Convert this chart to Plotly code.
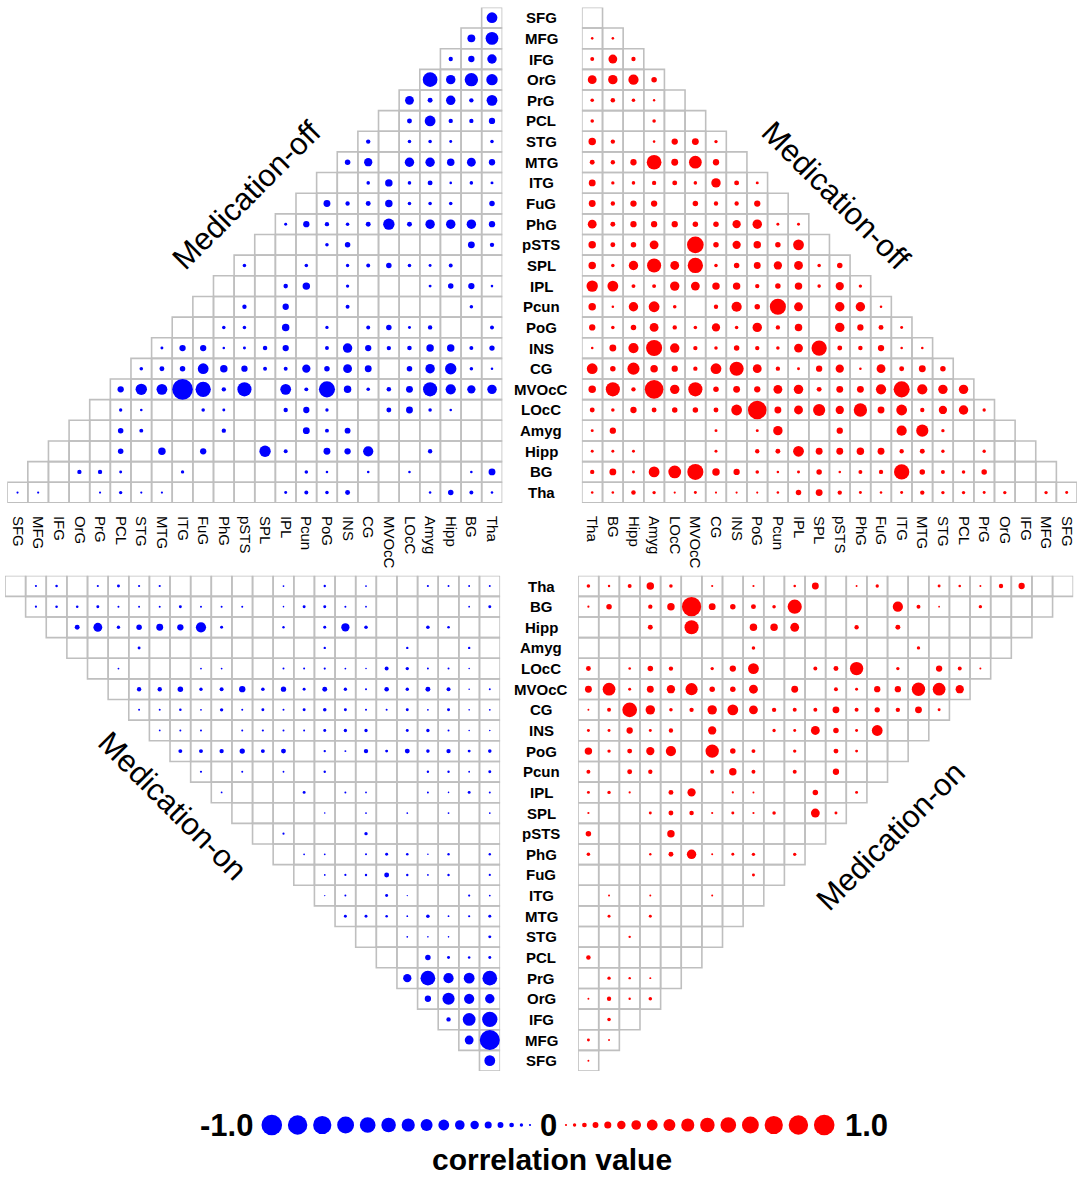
import plotly.graph_objects as go

regions = ["SFG", "MFG", "IFG", "OrG", "PrG", "PCL", "STG", "MTG", "ITG", "FuG", "PhG", "pSTS",
           "SPL", "IPL", "Pcun", "PoG", "INS", "CG", "MVOcC", "LOcC", "Amyg", "Hipp", "BG", "Tha"]

# Medication-off, negative correlations (top-left). Rows SFG..Tha, cells left->right.
off_neg = [
    [-.5],
    [-.35, -.6],
    [-.17, -.27, -.43],
    [-.7, -.43, -.63, -.53],
    [-.4, -.2, -.43, -.17, -.5],
    [0, -.2, -.5, -.17, -.17, -.27],
    [-.17, 0, -.13, -.13, -.1, 0, -.13],
    [-.23, -.37, 0, -.43, -.43, -.33, -.4, -.27],
    [0, 0, -.13, -.33, -.13, -.2, -.08, -.13, -.1],
    [0, -.3, -.17, -.2, -.33, -.13, -.13, -.13, 0, -.23],
    [-.1, -.27, -.17, -.13, -.2, -.53, -.2, -.43, -.43, -.43, -.27],
    [0, 0, 0, -.13, -.23, 0, 0, 0, 0, 0, -.3, -.17],
    [-.13, 0, 0, -.13, 0, -.12, -.15, -.23, -.13, -.1, -.15, 0, 0],
    [0, 0, 0, -.18, -.33, 0, -.12, 0, 0, 0, -.1, -.23, -.27, -.08],
    [0, 0, -.17, 0, -.27, 0, 0, -.15, 0, 0, 0, 0, 0, -.13, 0],
    [0, 0, -.13, -.13, 0, -.33, 0, -.12, 0, -.15, -.23, -.1, -.17, 0, 0, -.15],
    [-.1, -.27, -.27, -.08, -.1, -.18, -.27, 0, -.15, -.43, -.27, -.17, -.18, -.33, -.33, -.15, -.22],
    [-.13, -.2, -.23, -.5, -.33, -.27, -.15, -.15, -.37, -.23, -.4, -.3, 0, -.23, -.43, -.53, -.13, -.08],
    [-.27, -.53, -.5, -1, -.73, -.17, -.67, 0, -.5, -.15, -.77, -.33, -.13, -.18, -.3, -.67, -.47, -.37, -.43],
    [0, -.12, -.08, 0, 0, -.13, -.1, 0, 0, -.17, -.27, -.12, 0, 0, -.2, -.3, -.13, -.08, 0, 0],
    [0, 0, -.23, -.15, 0, 0, 0, -.17, 0, 0, 0, -.3, -.15, -.25, 0, 0, 0, 0, 0, 0, 0],
    [0, 0, 0, -.23, 0, -.33, 0, -.27, 0, 0, -.53, -.15, 0, -.3, -.27, -.47, 0, 0, -.17, 0, 0, 0],
    [0, 0, -.17, -.17, -.1, 0, 0, -.12, 0, 0, 0, 0, 0, -.13, -.08, 0, -.08, 0, -.08, 0, 0, -.08, -.3],
    [-.06, -.06, 0, 0, -.06, -.12, -.06, -.06, 0, 0, 0, 0, 0, -.1, -.15, -.13, -.2, 0, 0, 0, -.08, -.23, -.15, -.08],
]

# Medication-off, positive correlations (top-right). Rows SFG..Tha, cells left->right (Tha..SFG).
off_pos = [
    [0],
    [.08, .08],
    [.15, .4, .17],
    [.4, .43, .47, .23],
    [.13, .18, .13, .07, 0],
    [.13, 0, 0, .13, 0, 0],
    [.33, .17, 0, .08, .27, .3, .12],
    [.2, .17, .27, .7, .3, .6, .27, 0],
    [.3, .12, .13, .17, .2, .13, .43, .2, .1],
    [.3, .17, .27, .27, 0, .23, .17, .17, .27, 0],
    [.4, .2, .27, .27, .27, .23, .23, .37, .43, .1, .1],
    [.33, .2, .23, .4, 0, .8, .23, .37, .33, .23, .5, 0],
    [.33, .13, .43, .67, .4, .73, .13, .23, .3, .37, .4, .13, .23],
    [.53, .5, .15, .15, .43, .4, .33, .33, .17, .23, .33, .13, .37, .12],
    [.33, .08, .43, .5, .13, 0, .17, .47, .23, .77, .4, 0, .43, .43, .08],
    [.27, .13, .23, .4, .17, .13, .37, .13, .43, .17, .33, 0, .43, .27, .2, .1],
    [.08, .3, .47, .77, .43, .17, .13, .23, .17, .13, .4, .73, .2, .18, .27, .08, .08],
    [.5, .23, .57, .33, .27, .17, .5, .67, .4, .17, .1, .27, .37, .08, .4, .2, .3, .23],
    [.33, .67, .17, .9, .43, .67, .23, .3, .27, .4, .43, .2, .3, .3, .47, .77, .47, .43, .43],
    [.2, .13, .27, .2, .23, .23, .2, .5, .9, .3, .4, .57, .37, .63, .3, .5, .17, .37, .43, .12],
    [.1, .27, 0, 0, 0, 0, .1, 0, .1, .43, 0, 0, .27, 0, 0, .47, .57, .12, 0, 0, 0],
    [.1, .1, .1, 0, 0, 0, .1, 0, .17, .2, .5, .3, .3, .33, .3, .17, .2, .12, 0, .12, 0, 0],
    [.17, .3, .1, .5, .6, .77, .33, .27, .13, .08, .1, .23, .08, .15, .17, .73, .23, .15, .13, .23, 0, 0, 0],
    [.08, .08, .18, .12, .06, .1, .06, .06, .06, .08, .23, .3, .17, .1, .08, .1, .17, .12, .12, .1, .12, 0, .12, .1],
]

# Medication-on, negative correlations (bottom-left). Rows Tha..SFG, cells left->right (SFG..Tha).
on_neg = [
    [0, -.06, -.08, 0, -.06, -.1, -.06, -.06, 0, 0, 0, 0, 0, -.04, 0, -.07, 0, -.04, 0, 0, -.06, -.05, -.05, -.05],
    [-.06, -.08, -.08, -.1, -.05, -.05, -.05, -.1, -.05, -.05, -.05, 0, -.03, -.1, -.1, -.05, -.04, 0, 0, 0, 0, -.04, -.1],
    [0, -.2, -.4, -.12, -.23, -.3, -.27, -.47, -.1, 0, 0, -.07, 0, -.1, -.37, -.13, 0, 0, -.13, -.08, 0, 0],
    [0, 0, 0, -.1, 0, 0, 0, 0, 0, 0, 0, 0, -.07, 0, 0, 0, -.07, 0, 0, -.07, 0],
    [0, -.04, 0, 0, 0, -.04, -.04, 0, 0, -.05, -.05, -.06, -.04, -.03, -.15, -.12, -.05, -.05, -.03, 0],
    [0, -.17, -.17, -.23, -.12, -.15, -.27, -.13, -.22, -.1, -.2, -.12, -.05, -.18, -.12, -.2, -.15, -.03, -.05],
    [-.05, -.05, -.08, -.04, -.12, -.05, -.1, -.05, -.1, -.13, -.1, -.05, -.05, -.1, -.04, -.1, -.03, -.04],
    [-.04, -.05, -.05, 0, -.05, -.06, -.05, -.05, -.1, -.12, -.12, 0, -.1, -.12, -.05, -.03, -.03],
    [-.15, -.15, -.17, -.22, -.15, -.2, 0, -.07, -.05, -.17, -.1, -.2, -.13, -.17, -.1, -.13],
    [-.06, 0, -.05, 0, -.04, 0, -.07, 0, 0, 0, 0, -.07, -.07, -.04, -.1],
    [-.04, 0, 0, 0, -.1, 0, -.05, -.04, 0, 0, -.05, -.03, -.1, -.05],
    [0, 0, 0, 0, -.03, 0, -.04, 0, -.04, 0, -.04, 0, -.04],
    [0, -.06, 0, 0, 0, -.12, 0, 0, 0, 0, 0, 0],
    [0, -.04, -.04, 0, -.05, -.1, -.08, -.03, -.07, 0, -.07],
    [0, -.04, -.06, -.07, -.2, -.07, -.04, -.07, 0, -.06],
    [-.02, -.05, 0, -.1, -.02, 0, 0, -.06, -.04],
    [-.1, -.1, -.08, -.04, -.13, -.04, -.06, -.1],
    [0, 0, -.04, -.03, -.03, 0, -.1],
    [0, 0, -.23, -.1, -.08, -.1],
    [-.37, -.7, -.47, -.5, -.7],
    [-.27, -.57, -.47, -.43],
    [-.17, -.6, -.73],
    [-.4, -.97],
    [-.5],
]

# Medication-on, positive correlations (bottom-right). Rows Tha..SFG, cells left->right (Tha..SFG).
on_pos = [
    [.13, .07, .15, .33, .13, 0, .06, 0, .06, 0, .08, .3, 0, .05, .12, 0, 0, .1, .08, .05, .17, .27, 0, 0],
    [.06, .23, 0, .17, .33, .93, .3, .23, .2, .13, .67, 0, 0, 0, 0, .47, .15, .04, 0, .12, 0, 0, 0],
    [0, 0, 0, .2, 0, .67, 0, 0, .33, .33, .4, 0, 0, .17, 0, .2, 0, 0, 0, 0, 0, 0],
    [0, 0, 0, 0, 0, 0, 0, 0, .13, 0, 0, 0, 0, 0, 0, 0, .12, 0, 0, 0, 0],
    [.2, 0, .08, .23, .17, 0, .12, .27, .5, 0, 0, .15, .2, .63, 0, .12, 0, .27, .15, .05],
    [.3, .6, .1, .3, .37, .57, .23, .23, .4, 0, .3, 0, .15, .1, .27, .27, .63, .6, .37],
    [.05, .15, .7, .43, .13, .17, .43, .5, .4, .17, .15, .15, .3, .15, .22, .17, .3, .1],
    [.1, .1, .27, .1, .17, 0, .37, 0, 0, .12, .1, .4, .23, .1, .5, 0, 0],
    [.33, .12, .2, .37, .47, 0, .63, .23, .15, 0, .12, 0, .2, .1, 0, 0],
    [.15, 0, .2, .17, 0, 0, .15, .33, .15, 0, .15, 0, .27, 0, 0],
    [.1, .12, .06, 0, .2, .37, 0, .06, .05, 0, 0, .23, 0, .1],
    [.06, 0, 0, .1, .2, .18, .06, .1, .06, .13, 0, .4, .1],
    [.23, 0, 0, 0, .33, 0, 0, 0, 0, 0, 0, 0],
    [.13, 0, 0, .07, .2, .43, .05, .1, .12, 0, .12],
    [0, 0, 0, 0, 0, 0, 0, 0, .1, 0],
    [0, .05, 0, .05, 0, 0, .05, 0, 0],
    [0, .1, 0, .1, 0, 0, 0, 0],
    [0, 0, .07, 0, 0, 0, 0],
    [.18, 0, 0, 0, 0, 0],
    [0, .12, .07, .05, 0],
    [.05, .17, .07, .13],
    [0, .13, 0],
    [.1, .05],
    [.05],
]

legend_neg = [-1.0, -0.94, -0.88, -0.81, -0.75, -0.69, -0.62, -0.56,
              -0.5, -0.44, -0.38, -0.31, -0.25, -0.19, -0.12, -0.06]
legend_pos = [0.06, 0.12, 0.19, 0.25, 0.31, 0.38, 0.44, 0.5,
              0.56, 0.62, 0.69, 0.75, 0.81, 0.88, 0.94, 1.0]

W, H = 1084, 1177
CELL = 20.63
DOT_MIN = 1.0      # smallest drawable dot (px)
DOT_SPAN = 19.6    # extra diameter for |r| = 1 (px)
BLUE = "#0000ff"
RED = "#ff0000"
GRID = "#bfbfbf"
FONT = "Liberation Sans"


def dot(v):
    return DOT_MIN + abs(v) * DOT_SPAN


def dom_x(a, b):
    return [a / W, b / W]


def dom_y(top, bottom):
    return [1 - bottom / H, 1 - top / H]


rev = regions[::-1]
n = len(regions)

quads = [
    (off_neg, regions, regions, lambda r: n - 1 - r, "x", "y", BLUE),
    (off_pos, regions, rev, lambda r: 0, "x2", "y2", RED),
    (on_neg, rev, regions, lambda r: r, "x3", "y3", BLUE),
    (on_pos, rev, rev, lambda r: 0, "x4", "y4", RED),
]

fig = go.Figure()
for data, rows, cols, start, xa, ya, color in quads:
    cx, cy, dx, dy, ds = [], [], [], [], []
    for r, vals in enumerate(data):
        s = start(r)
        for k, v in enumerate(vals):
            cx.append(cols[s + k])
            cy.append(rows[r])
            if v != 0:
                dx.append(cols[s + k])
                dy.append(rows[r])
                ds.append(dot(v))
    fig.add_trace(go.Scatter(
        x=cx, y=cy, mode="markers", xaxis=xa, yaxis=ya, hoverinfo="skip", showlegend=False,
        marker=dict(symbol="square", size=CELL, color="rgba(0,0,0,0)", opacity=1,
                    line=dict(color=GRID, width=1.6))))
    fig.add_trace(go.Scatter(
        x=dx, y=dy, mode="markers", xaxis=xa, yaxis=ya, showlegend=False,
        marker=dict(symbol="circle", size=ds, color=color, opacity=1, line=dict(width=0))))

# legend scale
CENTER = 548
GAP = 5.8
neg_d = [dot(v) for v in legend_neg]
pos_d = [dot(v) for v in legend_pos]
neg_x = []
x = CENTER - 18
prev = None
for d in reversed(neg_d):
    if prev is not None:
        x -= (prev + d) / 2 + GAP
    neg_x.insert(0, x)
    prev = d
pos_x = []
x = CENTER + 18
prev = None
for d in pos_d:
    if prev is not None:
        x += (prev + d) / 2 + GAP
    pos_x.append(x)
    prev = d

fig.add_trace(go.Scatter(x=neg_x, y=[0] * len(neg_x), mode="markers", xaxis="x5", yaxis="y5",
                         showlegend=False,
                         marker=dict(size=neg_d, color=BLUE, opacity=1, line=dict(width=0))))
fig.add_trace(go.Scatter(x=pos_x, y=[0] * len(pos_x), mode="markers", xaxis="x5", yaxis="y5",
                         showlegend=False,
                         marker=dict(size=pos_d, color=RED, opacity=1, line=dict(width=0))))

tickfont = dict(family=FONT, size=15, color="black")
common = dict(type="category", showgrid=False, zeroline=False, showline=False,
              range=[-0.5, n - 0.5])
hidden = dict(showticklabels=False, ticks="")

top_y = dom_y(7.4, 502.9)
bot_y = dom_y(575.7, 1071.0)

fig.update_layout(
    width=W, height=H, margin=dict(l=0, r=0, t=0, b=0),
    paper_bgcolor="white", plot_bgcolor="rgba(0,0,0,0)",
    xaxis=dict(common, domain=dom_x(7.2, 502.3), anchor="y", categoryorder="array",
               categoryarray=regions, tickangle=90, ticks="outside", ticklen=9,
               tickcolor="rgba(0,0,0,0)", tickfont=tickfont, side="bottom"),
    yaxis=dict(common, domain=top_y, anchor="x", categoryorder="array",
               categoryarray=regions, range=[n - 0.5, -0.5], **hidden),
    xaxis2=dict(common, domain=dom_x(581.9, 1077.0), anchor="y2", categoryorder="array",
                categoryarray=rev, tickangle=90, ticks="outside", ticklen=9,
                tickcolor="rgba(0,0,0,0)", tickfont=tickfont, side="bottom"),
    yaxis2=dict(common, domain=top_y, anchor="x2", categoryorder="array",
                categoryarray=regions, range=[n - 0.5, -0.5], **hidden),
    xaxis3=dict(common, domain=dom_x(5.0, 500.1), anchor="y3", categoryorder="array",
                categoryarray=regions, **hidden),
    yaxis3=dict(common, domain=bot_y, anchor="x3", categoryorder="array",
                categoryarray=rev, range=[n - 0.5, -0.5], **hidden),
    xaxis4=dict(common, domain=dom_x(578.1, 1073.2), anchor="y4", categoryorder="array",
                categoryarray=rev, **hidden),
    yaxis4=dict(common, domain=bot_y, anchor="x4", categoryorder="array",
                categoryarray=rev, range=[n - 0.5, -0.5], **hidden),
    xaxis5=dict(domain=[0, 1], range=[0, W], anchor="y5", showgrid=False, zeroline=False,
                showline=False, **hidden),
    yaxis5=dict(domain=dom_y(1100, 1150), range=[-1, 1], anchor="x5", showgrid=False,
                zeroline=False, showline=False, **hidden),
)

ann = []
rowfont = dict(family=FONT, size=15, color="black")
for name in regions:
    ann.append(dict(x=541 / W, xref="paper", y=name, yref="y", text="<b>%s</b>" % name,
                    showarrow=False, xanchor="center", yanchor="middle", font=rowfont))
for name in rev:
    ann.append(dict(x=541 / W, xref="paper", y=name, yref="y3", text="<b>%s</b>" % name,
                    showarrow=False, xanchor="center", yanchor="middle", font=rowfont))

titlefont = dict(family=FONT, size=31, color="black")
for txt, px, py, ang in [("Medication-off", 246, 195, -45), ("Medication-off", 836, 195, 45),
                         ("Medication-on", 172, 806, 45), ("Medication-on", 890, 836, -45)]:
    ann.append(dict(x=px / W, y=1 - py / H, xref="paper", yref="paper", text=txt,
                    textangle=ang, showarrow=False, font=titlefont,
                    xanchor="center", yanchor="middle"))

legfont = dict(family=FONT, size=31, color="black")
ann.append(dict(x=neg_x[0] - neg_d[0] / 2 - 6, y=0, xref="x5", yref="y5", text="<b>-1.0</b>",
                showarrow=False, xanchor="right", yanchor="middle", font=legfont))
ann.append(dict(x=CENTER, y=0, xref="x5", yref="y5", text="<b>0</b>",
                showarrow=False, xanchor="center", yanchor="middle", font=legfont))
ann.append(dict(x=pos_x[-1] + pos_d[-1] / 2 + 8, y=0, xref="x5", yref="y5", text="<b>1.0</b>",
                showarrow=False, xanchor="left", yanchor="middle", font=legfont))
ann.append(dict(x=552 / W, y=0.5 / H, xref="paper", yref="paper",
                text="<b>correlation value</b>", showarrow=False, borderpad=0,
                xanchor="center", yanchor="bottom", font=dict(family=FONT, size=30, color="black")))
fig.update_layout(annotations=ann)

fig.write_html("out.html", config={"displayModeBar": False},
               post_script="document.body.style.margin='0px';")
